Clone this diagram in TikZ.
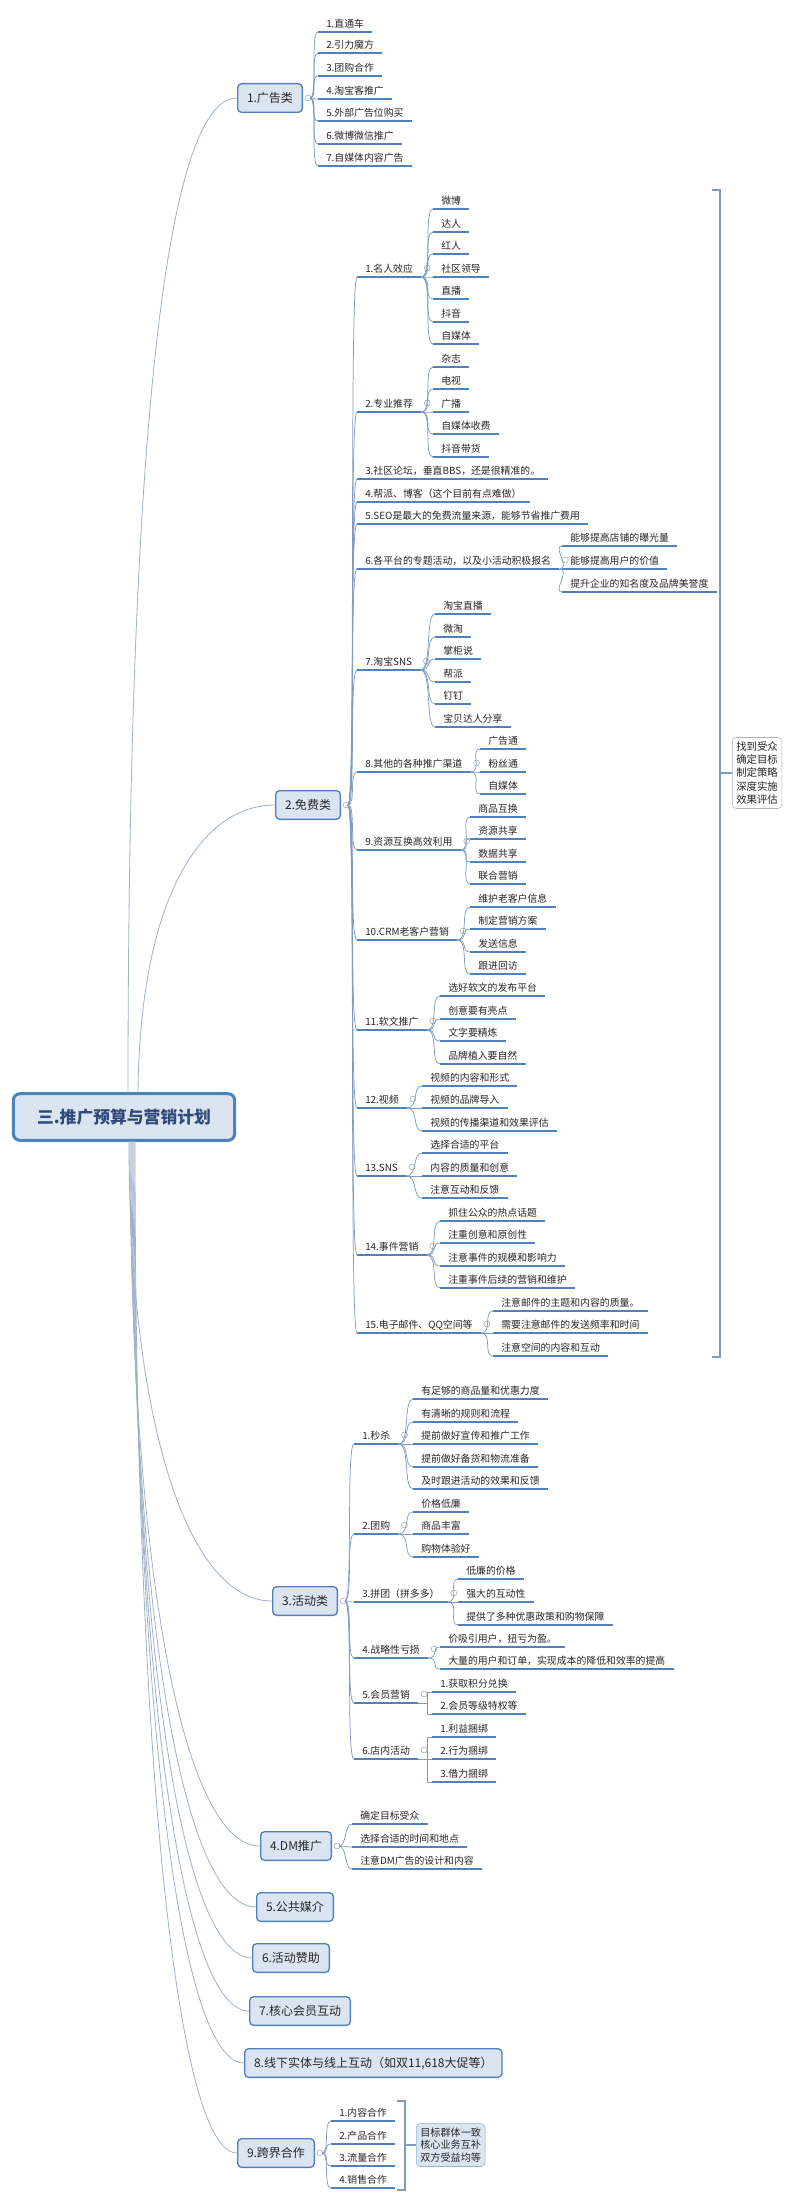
\documentclass[tikz,border=0pt]{standalone}
\usepackage{fontspec}
\setmainfont{Noto Sans CJK SC}
\usetikzlibrary{calc}
\definecolor{bd}{HTML}{4F81BD}
\definecolor{fl}{HTML}{DBE5F1}
\definecolor{cn}{HTML}{7F9BBF}
\definecolor{rc}{HTML}{9FB0C8}
\definecolor{tx}{HTML}{262626}
\definecolor{rt}{HTML}{2E4A7A}
\tikzset{
 leaf/.style={anchor=south west,inner xsep=6pt,inner ysep=3.4pt,text depth=0pt,font=\fontsize{7.4}{9}\selectfont,text=tx},
 uline/.style={draw=bd,line width=1.1pt},
 conn/.style={draw=cn,line width=0.55pt},
 rconn/.style={draw=rc,line width=0.6pt},
 mainbox/.style={draw=bd,fill=fl,rounded corners=3pt,line width=1pt,anchor=west,minimum height=21.5pt,inner xsep=7pt,font=\fontsize{9}{11}\selectfont,text=tx},
 circ/.style={draw=gray!70,line width=0.4pt,fill=white},
}
\newcommand\lf[4]{\node[leaf] (#1) at (#2,#3) {#4}; \draw[uline] (#1.south west) -- (#1.south east);}
\newcommand\cc[1]{\draw[circ] ($(#1.south east)+(6,-9)$) circle[radius=2.2pt];}
\begin{document}
\begin{tikzpicture}[x=0.75pt,y=-0.75pt]
\useasboundingbox (0,0) rectangle (800,2201);
% root
\node[draw=bd,fill=fl,rounded corners=5pt,line width=2.3pt,minimum width=166pt,minimum height=35pt,font=\fontsize{12.6}{14}\selectfont\bfseries,text=rt] (root) at (124,1117) {三.推广预算与营销计划};
% main nodes
\node[mainbox] (m1) at (237,98) {1.广告类};
\node[mainbox] (m2) at (275,805) {2.免费类};
\node[mainbox] (m3) at (272,1601) {3.活动类};
\node[mainbox] (m4) at (260,1846) {4.DM推广};
\node[mainbox] (m5) at (256,1907) {5.公共媒介};
\node[mainbox] (m6) at (252,1958) {6.活动赞助};
\node[mainbox] (m7) at (249,2011) {7.核心会员互动};
\node[mainbox] (m8) at (244,2063) {8.线下实体与线上互动（如双11,618大促等）};
\node[mainbox] (m9) at (237,2153) {9.跨界合作};
% root connectors
\coordinate (s1) at (128,1092); \coordinate (s2) at (138,1092);
\draw[rconn] (s1) .. controls (128,400) and (170,98) .. (m1.west);
\draw[rconn] (s2) .. controls (140,900) and (200,805) .. (m2.west);
\foreach \k/\sx in {3/129,4/130,5/131,6/132,7/133,8/134,9/135}{
 \coordinate (b\k) at (\sx,1141);
 \draw[rconn] (b\k) .. controls ($(b\k)!0.6!(b\k|-m\k.west)$) and ($(m\k.west)!0.6!(b\k|-m\k.west)$) .. (m\k.west);
}
% circles on main nodes
\foreach \k in {1,2,3,4,9}{\draw[circ] ($(m\k.east)+(5,0)$) circle[radius=2.2pt];}
% ---- 1 广告类
\foreach \y/\t [count=\i] in {32/1.直通车,53/2.引力魔方,76/3.团购合作,99/4.淘宝客推广,121/5.外部广告位购买,144/6.微博微信推广,166/7.自媒体内容广告}{
 \lf{a\i}{318}{\y}{\t}
 \draw[conn] ($(m1.east)+(7,0)$) .. controls +(8,0) and +(-8,0) .. (a\i.south west);
}
% ---- 2 免费类 level 1
\foreach \y/\t [count=\i] in {277/1.名人效应,412/2.专业推荐,479/3.社区论坛，垂直BBS，还是很精准的。,502/4.帮派、博客（这个目前有点难做）,524/5.SEO是最大的免费流量来源，能够节省推广费用,569/6.各平台的专题活动，以及小活动积极报名,670/7.淘宝SNS,772/8.其他的各种推广渠道,850/9.资源互换高效利用,940/10.CRM老客户营销,1030/11.软文推广,1108/12.视频,1176/13.SNS,1255/14.事件营销,1333/15.电子邮件、QQ空间等}{
 \lf{f\i}{357}{\y}{\t}
 \draw[conn] ($(m2.east)+(7,0)$) .. controls +(8,0) and +(-8,0) .. (f\i.south west);
}
\foreach \p in {1,2,6,7,8,9,10,11,12,13,14,15}{\cc{f\p}}
\newcommand\kids[3]{% parent, x, list
 \foreach \y/\t [count=\i] in {#3}{
  \lf{#1c\i}{#2}{\y}{\t}
  \draw[conn] (#1.south east) .. controls +(12,0) and +(-10,0) .. (#1c\i.south west);
 }}
\kids{f1}{433}{209/微博,232/达人,254/红人,277/社区领导,299/直播,322/抖音,344/自媒体}
\kids{f2}{433}{367/杂志,389/电视,412/广播,434/自媒体收费,457/抖音带货}
\kids{f6}{562}{546/能够提高店铺的曝光量,569/能够提高用户的价值,592/提升企业的知名度及品牌美誉度}
\kids{f7}{435}{614/淘宝直播,637/微淘,659/掌柜说,682/帮派,704/钉钉,727/宝贝达人分享}
\kids{f8}{480}{749/广告通,772/粉丝通,794/自媒体}
\kids{f9}{470}{817/商品互换,839/资源共享,862/数据共享,884/联合营销}
\kids{f10}{470}{907/维护老客户信息,929/制定营销方案,952/发送信息,974/跟进回访}
\kids{f11}{440}{996/选好软文的发布平台,1019/创意要有亮点,1041/文字要精炼,1064/品牌植入要自然}
\kids{f12}{422}{1086/视频的内容和形式,1108/视频的品牌导入,1131/视频的传播渠道和效果评估}
\kids{f13}{422}{1153/选择合适的平台,1176/内容的质量和创意,1198/注意互动和反馈}
\kids{f14}{440}{1221/抓住公众的热点话题,1243/注重创意和原创性,1266/注意事件的规模和影响力,1288/注重事件后续的营销和维护}
\kids{f15}{493}{1311/注意邮件的主题和内容的质量。,1333/需要注意邮件的发送频率和时间,1356/注意空间的内容和互动}
% bracket + summary
\coordinate (bt) at (720,190); \coordinate (bb) at (720,1357); \coordinate (bm) at (720,773);
\draw[conn,line width=0.8pt] ($(bt)+(-8,0)$) -- (bt) -- (bb) -- ($(bb)+(-8,0)$);
\node[draw=gray!60,rounded corners=3pt,fill=white,align=center,inner sep=3pt,font=\fontsize{7.8}{10}\selectfont,text=tx,anchor=west] (sum1) at (732,773) {找到受众\\确定目标\\制定策略\\深度实施\\效果评估};
\draw[conn,line width=0.8pt] (bm) -- (sum1.west);
% ---- 3 活动类
\foreach \y/\t [count=\i] in {1444/1.秒杀,1534/2.团购,1602/3.拼团（拼多多）,1658/4.战略性亏损,1703/5.会员营销,1759/6.店内活动}{
 \lf{h\i}{354}{\y}{\t}
 \draw[conn] ($(m3.east)+(7,0)$) .. controls +(8,0) and +(-8,0) .. (h\i.south west);
 \cc{h\i}
}
\kids{h1}{413}{1399/有足够的商品量和优惠力度,1422/有清晰的规则和流程,1444/提前做好宣传和推广工作,1467/提前做好备货和物流准备,1489/及时跟进活动的效果和反馈}
\kids{h2}{413}{1512/价格低廉,1534/商品丰富,1557/购物体验好}
\kids{h3}{458}{1579/低廉的价格,1602/强大的互动性,1625/提供了多种优惠政策和购物保障}
\kids{h4}{440}{1647/价吸引用户，扭亏为盈。,1669/大量的用户和订单，实现成本的降低和效率的提高}
\newcommand\elbow[3]{%
 \foreach \y/\t [count=\i] in {#3}{
  \lf{#1c\i}{#2}{\y}{\t}
  \draw[conn] (#1.south east) -- ++(9,0) |- (#1c\i.south west);
 }}
\elbow{h5}{432}{1692/1.获取积分兑换,1714/2.会员等级特权等}
\elbow{h6}{432}{1737/1.利益捆绑,1759/2.行为捆绑,1782/3.借力捆绑}
% ---- 4 DM
\foreach \y/\t [count=\i] in {1824/确定目标受众,1847/选择合适的时间和地点,1869/注意DM广告的设计和内容}{
 \lf{d\i}{352}{\y}{\t}
 \draw[conn] ($(m4.east)+(7,0)$) .. controls +(8,0) and +(-8,0) .. (d\i.south west);
}
% ---- 9 跨界
\foreach \y/\t [count=\i] in {2121/1.内容合作,2144/2.产品合作,2166/3.流量合作,2188/4.销售合作}{
 \lf{k\i}{331}{\y}{\t}
 \draw[conn] ($(m9.east)+(7,0)$) .. controls +(8,0) and +(-8,0) .. (k\i.south west);
}
\coordinate (ct) at (405,2101); \coordinate (cb) at (405,2190); \coordinate (cm) at (405,2145);
\draw[conn,line width=0.8pt] ($(ct)+(-8,0)$) -- (ct) -- (cb) -- ($(cb)+(-8,0)$);
\node[draw=bd!60,fill=fl,rounded corners=3pt,align=center,inner sep=3pt,font=\fontsize{7.6}{9.6}\selectfont,text=tx,anchor=west] (sum2) at (416,2145) {目标群体一致\\核心业务互补\\双方受益均等};
\draw[conn,line width=0.8pt] (cm) -- (sum2.west);
\end{tikzpicture}
\end{document}
